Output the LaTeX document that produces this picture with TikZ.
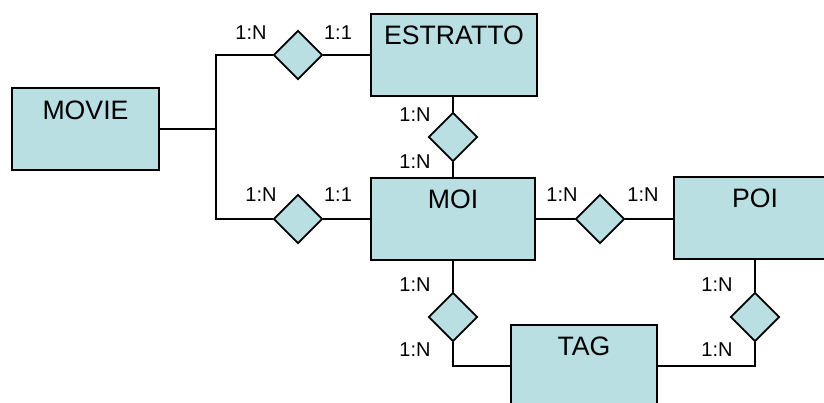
\documentclass[tikz,border=0pt]{standalone}
\usepackage{fontspec}
\setmainfont{Liberation Sans}
\usetikzlibrary{shapes.geometric}
\definecolor{entfill}{RGB}{185,223,227}
\tikzset{
  ent/.style={draw=black, fill=entfill, line width=1.4pt, rectangle, inner sep=0pt},
  rel/.style={draw=black, fill=entfill, line width=1.4pt, diamond, inner sep=0pt,
    minimum width={49*0.75pt}, minimum height={49*0.75pt}},
  link/.style={draw=black, line width=1.4pt},
  card/.style={inner sep=0pt, font=\fontsize{15}{16}\selectfont},
  ename/.style={inner sep=0pt, font=\fontsize{20}{22}\selectfont},
}
\begin{document}
\begin{tikzpicture}[x=0.75pt, y=-0.75pt]
\useasboundingbox (0,0) rectangle (824,403);
\clip (0,0) rectangle (824,403);
% entities
\node[ent, minimum width={147*0.75pt}, minimum height={82*0.75pt}] (movie) at (85.5,129) {};
\node[ent, minimum width={166*0.75pt}, minimum height={82*0.75pt}] (estratto) at (454,55) {};
\node[ent, minimum width={164*0.75pt}, minimum height={82*0.75pt}] (moi) at (453,219) {};
\node[ent, minimum width={162*0.75pt}, minimum height={82*0.75pt}] (poi) at (755,218) {};
\node[ent, minimum width={146*0.75pt}, minimum height={82*0.75pt}] (tag) at (584,366) {};
% entity names
\node[ename] (movieT) at (85.5,110) {MOVIE};
\node[ename] (estrattoT) at (454,35) {ESTRATTO};
\node[ename] (moiT) at (453,199) {MOI};
\node[ename] (poiT) at (755,198) {POI};
\node[ename] (tagT) at (584,346) {TAG};
% relationships
\node[rel] (d1) at (298,55) {};
\node[rel] (d2) at (298,219) {};
\node[rel] (d3) at (453,137) {};
\node[rel] (d4) at (600,219) {};
\node[rel] (d5) at (453,317) {};
\node[rel] (d6) at (755,317) {};
\coordinate (j) at (216,129);
% connectors
\draw[link] (movie.east) -- (j);
\draw[link] (d1.west) -| (j) |- (d2.west);
\draw[link] (d1.east) -- (estratto.west |- d1.east);
\draw[link] (d2.east) -- (moi.west |- d2.east);
\draw[link] (d3.north |- estratto.south) -- (d3.north);
\draw[link] (d3.south) -- (d3.south |- moi.north);
\draw[link] (moi.east |- d4.west) -- (d4.west);
\draw[link] (d4.east) -- (poi.west |- d4.east);
\draw[link] (d5.north |- moi.south) -- (d5.north);
\draw[link] (d5.south) |- (tag.west);
\draw[link] (d6.north |- poi.south) -- (d6.north);
\draw[link] (d6.south) |- (tag.east);
% cardinalities
\node[card] (c1) at (251,33) {1:N};
\node[card] (c2) at (338,33) {1:1};
\node[card] (c3) at (261,195) {1:N};
\node[card] (c4) at (338,195) {1:1};
\node[card] (c5) at (415,115) {1:N};
\node[card] (c6) at (415,162) {1:N};
\node[card] (c7) at (562,195) {1:N};
\node[card] (c8) at (643,195) {1:N};
\node[card] (c9) at (415,285) {1:N};
\node[card] (c10) at (415,350) {1:N};
\node[card] (c11) at (717,285) {1:N};
\node[card] (c12) at (717,350) {1:N};
\end{tikzpicture}
\end{document}
